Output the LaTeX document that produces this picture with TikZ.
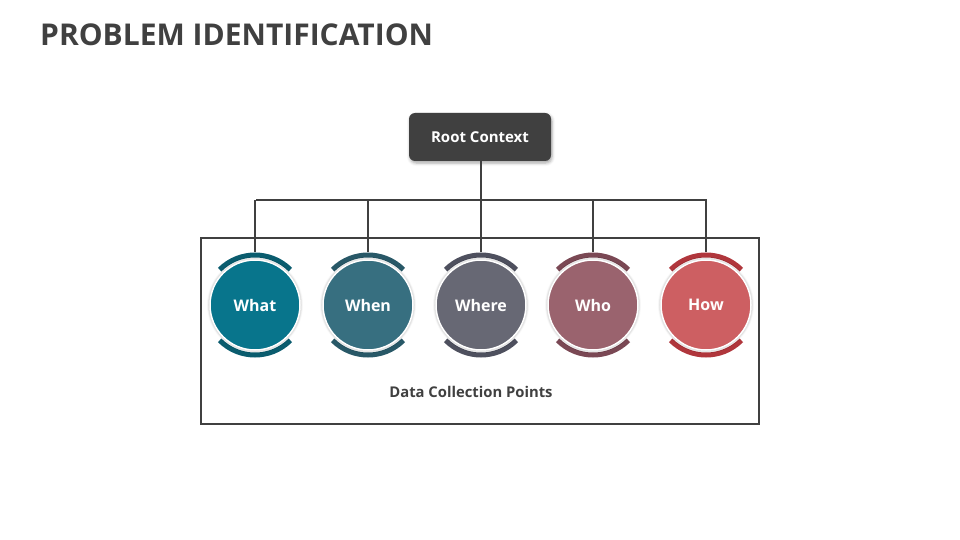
\documentclass[tikz,border=0pt]{standalone}
\usepackage{fontspec}
\setmainfont{Open Sans}
\usepackage{tikz}
\usetikzlibrary{calc,positioning,shadows.blur}
\definecolor{ink}{RGB}{64,64,64}
\definecolor{cwhat}{RGB}{8,117,140}
\definecolor{awhat}{RGB}{10,92,110}
\definecolor{cwhen}{RGB}{55,111,128}
\definecolor{awhen}{RGB}{40,88,103}
\definecolor{cwhere}{RGB}{103,104,116}
\definecolor{awhere}{RGB}{78,80,94}
\definecolor{cwho}{RGB}{154,99,110}
\definecolor{awho}{RGB}{122,72,84}
\definecolor{chow}{RGB}{205,95,98}
\definecolor{ahow}{RGB}{176,54,60}

\begin{document}
\begin{tikzpicture}[x=1pt,y=-1pt,
      root/.style={fill=ink,rounded corners=6pt,minimum width=142pt,minimum height=48pt,
        text=white,font=\fontsize{15}{18}\selectfont\bfseries,
        blur shadow={shadow xshift=1pt,shadow yshift=-2pt,shadow blur radius=3pt,shadow opacity=35}},
      pt/.style={circle,minimum size=90pt,inner sep=0pt,draw=white,line width=1.5pt,
        text=white,font=\fontsize{16}{19}\selectfont\bfseries,
        blur shadow={shadow xshift=0pt,shadow yshift=0pt,shadow blur radius=3pt,shadow opacity=45}},
      link/.style={draw=ink,line width=2.2pt},
      rim/.style={line width=5pt}]
  \useasboundingbox (0,0) rectangle (960,540);

  % title
  \node[anchor=base west,text=ink,font=\fontsize{30}{36}\selectfont\bfseries,inner sep=0pt]
    (title) at (40,46) {PROBLEM IDENTIFICATION};

  % root
  \node[root] (ctx) at (480,137) {Root Context};

  % frame
  \draw[draw=ink,line width=2.5pt] (201,238) rectangle (759,424);
  \node[text=ink,font=\fontsize{14.8}{17}\selectfont\bfseries] (dcp) at (471,392) {Data Collection Points};

  % branches
  \coordinate (bus) at (481,200);
  \draw[link] (ctx.south -| bus) -- (bus);
  \draw[link] (256,200) -- (707,200);

  % points
  \foreach \lab/\x/\c in {What/255/what,When/368/when,Where/481/where,Who/593/who,How/706/how}{
    \coordinate (top-\lab) at (\x,252);
    \draw[link] (\x,200) -- (top-\lab);
    \draw[rim,draw=a\c] ($(\x,305)+(-45:50)$) arc[start angle=-45,end angle=-135,radius=50];
    \draw[rim,draw=a\c] ($(\x,305)+(45:50)$) arc[start angle=45,end angle=135,radius=50];
    \node[pt,fill=c\c] (p-\lab) at (\x,305) {\lab};
  }
\end{tikzpicture}
\end{document}
